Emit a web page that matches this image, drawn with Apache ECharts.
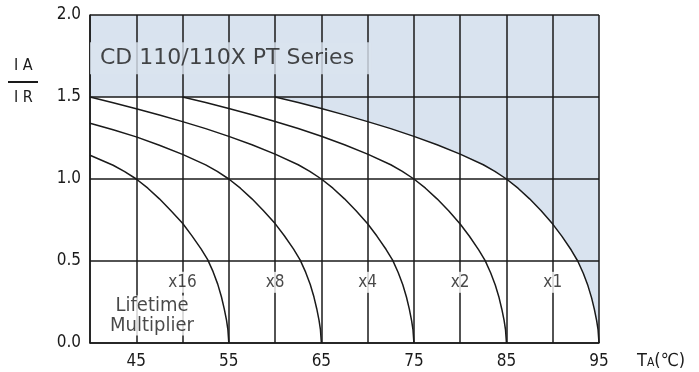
<!DOCTYPE html>
<html>
<head>
<meta charset="utf-8">
<script src="https://cdn.jsdelivr.net/npm/echarts@6/dist/echarts.min.js"></script>
<style>html,body{margin:0;padding:0;background:#fff;}#c{width:699px;height:372px;}</style>
</head>
<body>
<div id="c"></div>
<script>
// ---- data ----
const xTickLabels = [45, 55, 65, 75, 85, 95];
const yTickLabels = [0, 0.5, 1.0, 1.5, 2.0];

// Lifetime multiplier x1 (ends at 95 °C)
const tempX1 = [60, 62.5, 65, 67.5, 70, 72.5, 75, 77.5, 80, 82.5, 83.75, 85, 86.25, 87.5, 88.75, 90, 91, 92, 92.7, 93.3, 93.8, 94.2, 94.5, 94.75, 94.9, 95];
const ratioX1 = [1.5, 1.467, 1.43, 1.391, 1.35, 1.307, 1.26, 1.209, 1.152, 1.087, 1.047, 1.0, 0.944, 0.879, 0.806, 0.725, 0.65, 0.567, 0.5, 0.425, 0.35, 0.275, 0.205, 0.135, 0.08, 0];

// x2 (ends at 85 °C)
const tempX2 = [50, 52.5, 55, 57.5, 60, 62.5, 65, 67.5, 70, 72.5, 73.75, 75, 76.25, 77.5, 78.75, 80, 81, 82, 82.7, 83.3, 83.8, 84.2, 84.5, 84.75, 84.9, 85];
const ratioX2 = [1.5, 1.467, 1.43, 1.392, 1.351, 1.308, 1.261, 1.209, 1.152, 1.087, 1.047, 1.0, 0.944, 0.879, 0.806, 0.726, 0.651, 0.568, 0.502, 0.427, 0.352, 0.277, 0.206, 0.136, 0.08, 0];

// x4 (ends at 75 °C)
const tempX4 = [40, 42.5, 45, 47.5, 50, 52.5, 55, 57.5, 60, 62.5, 63.75, 65, 66.25, 67.5, 68.75, 70, 71, 72, 72.7, 73.3, 73.8, 74.2, 74.5, 74.75, 74.9, 75];
const ratioX4 = [1.5, 1.465, 1.428, 1.39, 1.35, 1.307, 1.26, 1.209, 1.152, 1.087, 1.047, 1.0, 0.944, 0.879, 0.806, 0.727, 0.652, 0.57, 0.505, 0.43, 0.355, 0.279, 0.208, 0.137, 0.081, 0];

// x8 (ends at 65 °C)
const tempX8 = [40, 42.5, 45, 47.5, 50, 52.5, 53.75, 55, 56.25, 57.5, 58.75, 60, 61, 62, 62.7, 63.3, 63.8, 64.2, 64.5, 64.75, 64.9, 65];
const ratioX8 = [1.34, 1.3, 1.257, 1.206, 1.15, 1.086, 1.046, 1.0, 0.944, 0.879, 0.806, 0.728, 0.654, 0.572, 0.507, 0.432, 0.357, 0.28, 0.209, 0.138, 0.081, 0];

// x16 (ends at 55 °C)
const tempX16 = [40, 42.5, 43.75, 45, 46.25, 47.5, 48.75, 50, 51, 52, 52.7, 53.3, 53.8, 54.2, 54.5, 54.75, 54.9, 55];
const ratioX16 = [1.145, 1.084, 1.045, 1.0, 0.944, 0.879, 0.806, 0.73, 0.655, 0.574, 0.51, 0.435, 0.359, 0.282, 0.21, 0.139, 0.082, 0];

const multiplierLabels = ['x16', 'x8', 'x4', 'x2', 'x1'];
const multiplierLabelTemps = [50, 60, 70, 80, 90];
const multiplierLabelY = 0.37;

const titleText = 'CD 110/110X PT Series';
const noteText = 'Lifetime\nMultiplier';

// ---- build ----
const zip = (xs, ys) => xs.map((x, i) => [x, ys[i]]);
const FONT = '"DejaVu Sans Condensed", "DejaVu Sans", sans-serif';
const INK = '#1a1a1a';
const FILL = '#d9e3ef';
const SMOOTH = false;

const curves = [
  zip(tempX1, ratioX1), zip(tempX2, ratioX2), zip(tempX4, ratioX4),
  zip(tempX8, ratioX8), zip(tempX16, ratioX16)
];

const curveSeries = curves.map(d => ({
  type: 'line', data: d, smooth: SMOOTH, symbol: 'none', z: 7, silent: true,
  lineStyle: { color: INK, width: 1.5, join: 'round' }
}));

const chart = echarts.init(document.getElementById('c'), null, { renderer: 'canvas' });
chart.setOption({
  animation: false,
  backgroundColor: '#fff',
  grid: { left: 90, right: 100, top: 15, bottom: 29 },
  xAxis: {
    type: 'value', min: 40, max: 95, interval: 5, z: 5,
    axisLine: { show: true, lineStyle: { color: INK, width: 1.5 } },
    axisTick: { show: false },
    splitLine: { show: true, lineStyle: { color: INK, width: 1.5 } },
    axisLabel: {
      margin: 10, color: INK, fontFamily: FONT, fontSize: 17,
      formatter: v => (xTickLabels.indexOf(v) >= 0 ? String(v) : '')
    }
  },
  yAxis: {
    type: 'value', min: 0, max: 2, interval: 0.5, z: 5,
    axisLine: { show: true, lineStyle: { color: INK, width: 1.5 } },
    axisTick: { show: false },
    splitLine: { show: true, lineStyle: { color: INK, width: 1.5 } },
    axisLabel: {
      margin: 9, color: INK, fontFamily: FONT, fontSize: 17,
      formatter: v => (yTickLabels.indexOf(v) >= 0 ? v.toFixed(1) : '')
    }
  },
  series: [
    // shaded region: above x1 curve and above 1.5
    {
      type: 'line', data: zip(tempX1, ratioX1), smooth: SMOOTH, symbol: 'none', z: 1, silent: true,
      lineStyle: { width: 0, opacity: 0 },
      areaStyle: { origin: 'end', color: FILL, opacity: 1 },
      markArea: {
        silent: true,
        itemStyle: { color: FILL, opacity: 1 },
        data: [[{ xAxis: 40, yAxis: 1.5 }, { xAxis: 95, yAxis: 2 }]]
      }
    },
    // white gap band + multiplier labels
    {
      type: 'scatter', z: 6, silent: true, symbolSize: 0,
      data: multiplierLabelTemps.map((t, i) => ({ value: [t, multiplierLabelY], name: multiplierLabels[i] })),
      label: {
        show: true, position: 'inside', formatter: p => p.name,
        color: INK, fontFamily: FONT, fontSize: 17,
        backgroundColor: '#fff', padding: [2, 3]
      },
      markArea: {
        silent: true,
        itemStyle: { color: '#fff', opacity: 1 },
        data: [
          [{ xAxis: 47.5, yAxis: 0.32 }, { xAxis: 52.5, yAxis: 0.424 }],
          [{ xAxis: 57.5, yAxis: 0.32 }, { xAxis: 92, yAxis: 0.424 }]
        ]
      }
    },
    {
      type: 'scatter', z: 8, silent: true, symbolSize: 0,
      data: [{ value: [40, 1.737], name: titleText }],
      label: {
        show: true, position: 'right', distance: 0, formatter: p => p.name,
        color: INK, fontFamily: '"DejaVu Sans", sans-serif', fontSize: 22, lineHeight: 22,
        backgroundColor: FILL, padding: [5, 17, 5, 10]
      }
    },
    {
      type: 'scatter', z: 8, silent: true, symbolSize: 0,
      data: [{ value: [46.7, 0.168], name: noteText }],
      label: {
        show: true, position: 'inside', formatter: p => p.name,
        color: INK, fontFamily: FONT, fontSize: 20, lineHeight: 20,
        backgroundColor: '#fff', padding: [0, 2]
      }
    }
  ].concat(curveSeries),
  graphic: [
    { type: 'text', left: 14, top: 58, style: { text: 'I A', fontFamily: FONT, fontSize: 16, fill: INK } },
    { type: 'line', shape: { x1: 8, y1: 82, x2: 38, y2: 82 }, style: { stroke: INK, lineWidth: 2 } },
    { type: 'text', left: 14, top: 90, style: { text: 'I R', fontFamily: FONT, fontSize: 16, fill: INK } },
    {
      type: 'text', left: 637, top: 352,
      style: {
        text: '{t|T}{a|A}{t|(℃)}', fill: INK,
        rich: {
          t: { fontFamily: FONT, fontSize: 18, lineHeight: 20, color: INK },
          a: { fontFamily: FONT, fontSize: 12, lineHeight: 12, verticalAlign: 'bottom', padding: [0, 0, 2, 0], color: INK }
        }
      }
    }
  ]
});
</script>
</body>
</html>
